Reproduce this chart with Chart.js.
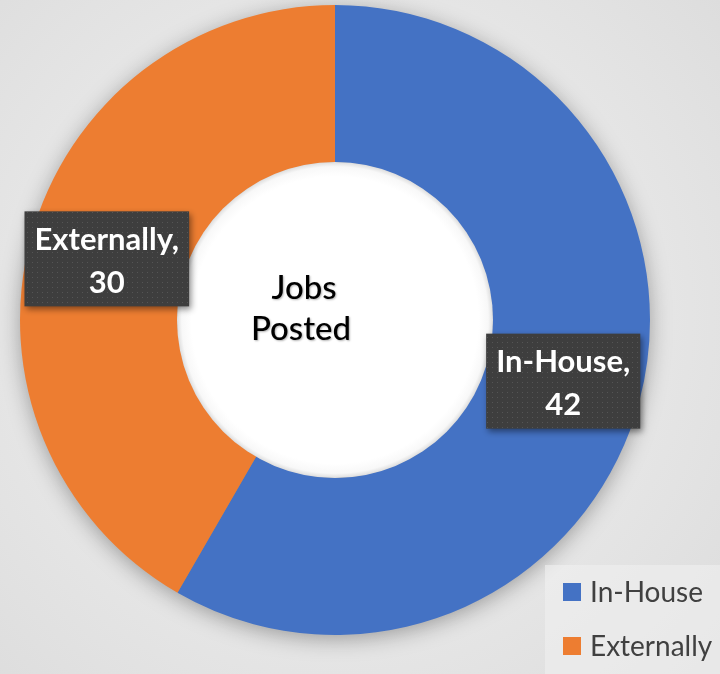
<!DOCTYPE html>
<html>
<head>
<meta charset="utf-8">
<script src="https://cdn.jsdelivr.net/npm/chart.js@4/dist/chart.umd.min.js"></script>
<style>
  html, body { margin: 0; padding: 0; }
  body {
    width: 720px; height: 674px; overflow: hidden;
    background: radial-gradient(circle at 335px 320px, #f4f4f4 0%, #e6e6e6 60%, #dcdcdc 100%);
  }
  #chart1 { display: block; }
</style>
</head>
<body>
<canvas id="chart1" width="720" height="674"></canvas>
<script>
// chart data
var labels = ['In-House', 'Externally'];
var values = [42, 30];
var colors = ['#4472C4', '#ED7D31'];
var centerText = ['Jobs', 'Posted'];

// little dotted pattern for the label boxes
function dotPattern(ctx) {
    var p = document.createElement('canvas');
    p.width = 5; p.height = 5;
    var pc = p.getContext('2d');
    pc.fillStyle = '#3e3e3e';
    pc.fillRect(0, 0, 5, 5);
    pc.fillStyle = '#555555';
    pc.fillRect(2, 2, 1, 1);
    return ctx.createPattern(p, 'repeat');
}

var ringShadow = {
    id: 'ringShadow',
    beforeDatasetsDraw: function(chart) {
        var arc = chart.getDatasetMeta(0).data[0];
        var ctx = chart.ctx;
        ctx.save();
        ctx.shadowColor = 'rgba(0,0,0,0.35)';
        ctx.shadowBlur = 22;
        ctx.shadowOffsetY = 4;
        ctx.fillStyle = '#888';
        ctx.beginPath();
        ctx.arc(arc.x, arc.y, arc.outerRadius - 1, 0, Math.PI * 2);
        ctx.fill();
        ctx.restore();
    },
    afterDatasetsDraw: function(chart) {
        var meta = chart.getDatasetMeta(0);
        var arc = meta.data[0];
        var ctx = chart.ctx;
        var r = arc.innerRadius;

        // white hole with a soft inner shadow
        ctx.save();
        var g = ctx.createRadialGradient(arc.x, arc.y, r - 14, arc.x, arc.y, r);
        g.addColorStop(0, '#ffffff');
        g.addColorStop(0.7, '#f8f8f8');
        g.addColorStop(1, '#e0e0e0');
        ctx.fillStyle = g;
        ctx.beginPath();
        ctx.arc(arc.x, arc.y, r + 0.5, 0, Math.PI * 2);
        ctx.fill();
        ctx.restore();

        // center text
        ctx.save();
        ctx.fillStyle = '#000';
        ctx.font = '500 33px Lato';
        ctx.textAlign = 'center';
        ctx.textBaseline = 'alphabetic';
        ctx.shadowColor = 'rgba(0,0,0,0.3)';
        ctx.shadowBlur = 2;
        ctx.shadowOffsetX = 1;
        ctx.shadowOffsetY = 1;
        ctx.fillText(centerText[0], arc.x - 31, arc.y - 21);
        ctx.fillText(centerText[1], arc.x - 34, arc.y + 20);
        ctx.restore();

        // data labels
        var pat = dotPattern(ctx);
        meta.data.forEach(function(el, i) {
            var pos = el.tooltipPosition();
            var lines = [labels[i] + ',', String(values[i])];
            ctx.save();
            ctx.font = 'bold 31px Lato';
            var w = Math.max(ctx.measureText(lines[0]).width, ctx.measureText(lines[1]).width) + 20;
            var h = 95;
            ctx.shadowColor = 'rgba(0,0,0,0.45)';
            ctx.shadowBlur = 6;
            ctx.shadowOffsetX = 2;
            ctx.shadowOffsetY = 3;
            ctx.fillStyle = pat;
            ctx.fillRect(pos.x - w / 2, pos.y - h / 2, w, h);
            ctx.shadowColor = 'transparent';
            ctx.fillStyle = '#fff';
            ctx.textAlign = 'center';
            ctx.textBaseline = 'alphabetic';
            ctx.fillText(lines[0], pos.x, pos.y - 9);
            ctx.fillText(lines[1], pos.x, pos.y + 34);
            ctx.restore();
        });

        // legend in the bottom right corner
        ctx.save();
        ctx.fillStyle = 'rgba(240,240,240,0.6)';
        ctx.fillRect(545, 565, 175, 109);
        ctx.font = '28px Lato';
        ctx.textBaseline = 'middle';
        labels.forEach(function(lab, i) {
            var y = 592 + i * 54;
            ctx.fillStyle = colors[i];
            ctx.fillRect(563, y - 9, 18, 18);
            ctx.fillStyle = '#404040';
            ctx.fillText(lab, 590, y + 1);
        });
        ctx.restore();
    }
};

var ctx = document.getElementById('chart1').getContext('2d');
var chart = new Chart(ctx, {
    type: 'doughnut',
    data: {
        labels: labels,
        datasets: [{
            data: values,
            backgroundColor: colors,
            borderWidth: 0
        }]
    },
    options: {
        responsive: false,
        animation: false,
        cutout: '50%',
        layout: { padding: { left: 20, top: 5, right: 70, bottom: 39 } },
        plugins: {
            legend: { display: false },
            tooltip: { enabled: false }
        }
    },
    plugins: [ringShadow]
});
</script>
</body>
</html>
